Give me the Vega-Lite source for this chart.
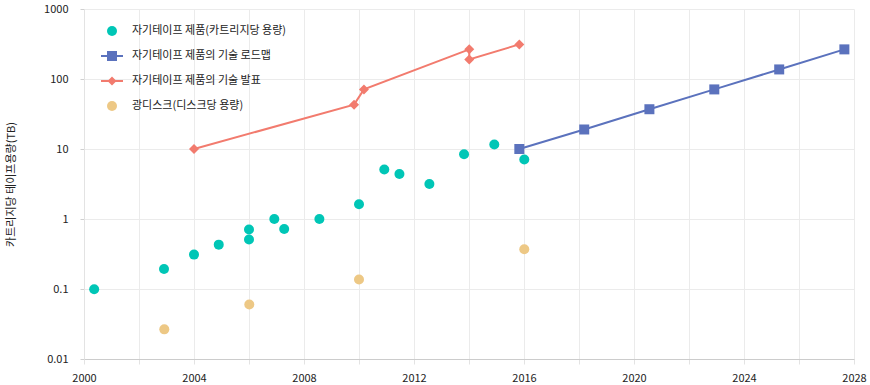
{
  "$schema": "https://vega.github.io/schema/vega-lite/v6.json",
  "width": 770,
  "height": 350,
  "autosize": {"type": "none"},
  "padding": {"left": 84, "top": 9, "right": 16, "bottom": 26},
  "background": "white",
  "config": {
    "view": {"stroke": null},
    "font": "Noto Sans CJK KR",
    "axis": {"labelFont": "Noto Sans CJK KR", "titleFont": "Noto Sans CJK KR"},
    "legend": {"labelFont": "Noto Sans CJK KR"}
  },
  "data": {
    "values": [
      {"series": "자기테이프 제품(카트리지당 용량)", "year": 2000.37, "tb": 0.099, "idx": 1},
      {"series": "자기테이프 제품(카트리지당 용량)", "year": 2002.91, "tb": 0.193, "idx": 2},
      {"series": "자기테이프 제품(카트리지당 용량)", "year": 2004.0, "tb": 0.31, "idx": 3},
      {"series": "자기테이프 제품(카트리지당 용량)", "year": 2004.9, "tb": 0.43, "idx": 4},
      {"series": "자기테이프 제품(카트리지당 용량)", "year": 2006.0, "tb": 0.71, "idx": 5},
      {"series": "자기테이프 제품(카트리지당 용량)", "year": 2006.0, "tb": 0.51, "idx": 6},
      {"series": "자기테이프 제품(카트리지당 용량)", "year": 2006.92, "tb": 1.0, "idx": 7},
      {"series": "자기테이프 제품(카트리지당 용량)", "year": 2007.28, "tb": 0.72, "idx": 8},
      {"series": "자기테이프 제품(카트리지당 용량)", "year": 2008.56, "tb": 1.0, "idx": 9},
      {"series": "자기테이프 제품(카트리지당 용량)", "year": 2010.0, "tb": 1.62, "idx": 10},
      {"series": "자기테이프 제품(카트리지당 용량)", "year": 2010.92, "tb": 5.1, "idx": 11},
      {"series": "자기테이프 제품(카트리지당 용량)", "year": 2011.47, "tb": 4.4, "idx": 12},
      {"series": "자기테이프 제품(카트리지당 용량)", "year": 2012.56, "tb": 3.16, "idx": 13},
      {"series": "자기테이프 제품(카트리지당 용량)", "year": 2013.82, "tb": 8.4, "idx": 14},
      {"series": "자기테이프 제품(카트리지당 용량)", "year": 2014.92, "tb": 11.6, "idx": 15},
      {"series": "자기테이프 제품(카트리지당 용량)", "year": 2016.01, "tb": 7.1, "idx": 16},
      {"series": "자기테이프 제품의 기술 로드맵", "year": 2015.83, "tb": 10, "idx": 1},
      {"series": "자기테이프 제품의 기술 로드맵", "year": 2018.19, "tb": 19, "idx": 2},
      {"series": "자기테이프 제품의 기술 로드맵", "year": 2020.56, "tb": 37, "idx": 3},
      {"series": "자기테이프 제품의 기술 로드맵", "year": 2022.92, "tb": 71, "idx": 4},
      {"series": "자기테이프 제품의 기술 로드맵", "year": 2025.28, "tb": 137, "idx": 5},
      {"series": "자기테이프 제품의 기술 로드맵", "year": 2027.65, "tb": 265, "idx": 6},
      {"series": "자기테이프 제품의 기술 발표", "year": 2004.0, "tb": 10, "idx": 1},
      {"series": "자기테이프 제품의 기술 발표", "year": 2009.82, "tb": 43, "idx": 2},
      {"series": "자기테이프 제품의 기술 발표", "year": 2010.18, "tb": 71, "idx": 3},
      {"series": "자기테이프 제품의 기술 발표", "year": 2014.01, "tb": 265, "idx": 4},
      {"series": "자기테이프 제품의 기술 발표", "year": 2014.01, "tb": 190, "idx": 5},
      {"series": "자기테이프 제품의 기술 발표", "year": 2015.83, "tb": 312, "idx": 6},
      {"series": "광디스크(디스크당 용량)", "year": 2002.92, "tb": 0.0265, "idx": 1},
      {"series": "광디스크(디스크당 용량)", "year": 2006.01, "tb": 0.06, "idx": 2},
      {"series": "광디스크(디스크당 용량)", "year": 2010.0, "tb": 0.137, "idx": 3},
      {"series": "광디스크(디스크당 용량)", "year": 2016.01, "tb": 0.37, "idx": 4}
    ]
  },
  "encoding": {
    "x": {
      "field": "year", "type": "quantitative",
      "scale": {"domain": [2000, 2028], "nice": false, "zero": false},
      "axis": {
        "title": null,
        "values": [2000, 2002, 2004, 2006, 2008, 2010, 2012, 2014, 2016, 2018, 2020, 2022, 2024, 2026, 2028],
        "labelExpr": "datum.value % 4 === 0 ? '' + datum.value : ''",
        "grid": true, "gridColor": "#ebebeb", "gridWidth": 1,
        "domainColor": "#cccccc", "tickColor": "#e3e3e3", "tickSize": 5,
        "labelFontSize": 11, "labelColor": "#222222", "labelPadding": 8,
        "labelFlush": false, "labelOverlap": false
      }
    },
    "y": {
      "field": "tb", "type": "quantitative",
      "scale": {"type": "log", "domain": [0.01, 1000], "nice": false},
      "axis": {
        "title": "카트리지당 테이프용량(TB)",
        "values": [0.01, 0.1, 1, 10, 100, 1000],
        "format": "~g",
        "grid": true, "gridColor": "#ebebeb", "gridWidth": 1,
        "domainColor": "#e3e3e3", "tickColor": "#d0d0d0", "tickSize": 4,
        "labelFontSize": 11, "labelColor": "#222222", "labelPadding": 12,
        "titleFontSize": 11, "titleFontWeight": "normal", "titleColor": "#222222", "titlePadding": 27
      }
    }
  },
  "layer": [
    {
      "transform": [{"filter": "false"}],
      "mark": {"type": "point", "filled": true, "opacity": 1, "size": 100},
      "encoding": {
        "color": {"field": "series", "type": "nominal",
          "scale": {
            "domain": ["자기테이프 제품(카트리지당 용량)", "자기테이프 제품의 기술 로드맵", "자기테이프 제품의 기술 발표", "광디스크(디스크당 용량)"],
            "range": ["#00c6b6", "#5b72bd", "#f27b6e", "#edc885"]
          },
          "legend": {
            "title": null,
            "orient": "none", "legendX": 22, "legendY": 16,
            "padding": 0,
            "symbolSize": 100, "symbolOpacity": 1,
            "rowPadding": 14,
            "labelFontSize": 11, "labelColor": "#222222", "labelOffset": 14
          }
        },
        "shape": {"field": "series", "type": "nominal",
          "scale": {
            "domain": ["자기테이프 제품(카트리지당 용량)", "자기테이프 제품의 기술 로드맵", "자기테이프 제품의 기술 발표", "광디스크(디스크당 용량)"],
            "range": ["circle", "M-2.2,-0.2H2.2V0.2H-2.2Z M-1,-1H1V1H-1Z", "M-2.2,-0.2H2.2V0.2H-2.2Z M0,-0.9L0.9,0L0,0.9L-0.9,0Z", "circle"]
          },
          "legend": {
            "title": null,
            "orient": "none", "legendX": 22, "legendY": 16,
            "padding": 0,
            "symbolSize": 100, "symbolOpacity": 1,
            "rowPadding": 14,
            "labelFontSize": 11, "labelColor": "#222222", "labelOffset": 14
          }
        }
      }
    },
    {
      "transform": [{"filter": "datum.series === '자기테이프 제품의 기술 로드맵' || datum.series === '자기테이프 제품의 기술 발표'"}],
      "mark": {"type": "line", "strokeWidth": 2},
      "encoding": {
        "stroke": {"field": "series", "type": "nominal", "legend": null,
          "scale": {
            "domain": ["자기테이프 제품의 기술 로드맵", "자기테이프 제품의 기술 발표"],
            "range": ["#5b72bd", "#f27b6e"]
          }},
        "order": {"field": "idx", "type": "quantitative"}
      }
    },
    {
      "transform": [{"filter": "datum.series === '자기테이프 제품(카트리지당 용량)' || datum.series === '광디스크(디스크당 용량)'"}],
      "mark": {"type": "point", "shape": "circle", "filled": true, "opacity": 1, "size": 100},
      "encoding": {
        "color": {"field": "series", "type": "nominal"}
      }
    },
    {
      "transform": [{"filter": "datum.series === '자기테이프 제품의 기술 로드맵'"}],
      "mark": {"type": "point", "shape": "square", "filled": true, "opacity": 1, "size": 100},
      "encoding": {
        "color": {"field": "series", "type": "nominal"}
      }
    },
    {
      "transform": [{"filter": "datum.series === '자기테이프 제품의 기술 발표'"}],
      "mark": {"type": "point", "shape": "diamond", "filled": true, "opacity": 1, "size": 100},
      "encoding": {
        "color": {"field": "series", "type": "nominal"}
      }
    }
  ]
}
